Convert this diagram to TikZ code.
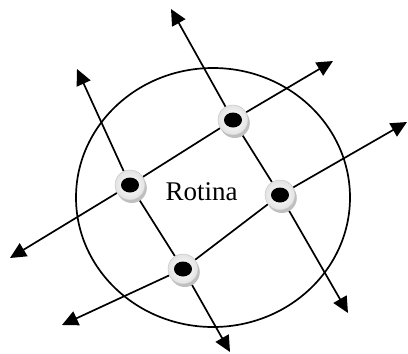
\documentclass[tikz,border=0pt]{standalone}
\usepackage{fontspec}
\setmainfont{Liberation Serif}
\usepackage{tikz}
\usetikzlibrary{arrows.meta, backgrounds, shadows}
\tikzset{
    retpuck/.style={circle, minimum size=30pt, inner sep=0pt, draw=gray!45, line width=0.5pt, inner color=white, outer color=gray!22, drop shadow={shadow xshift=1.8pt, shadow yshift=-3pt, fill=gray!50, opacity=1}, path picture={\fill[black] (path picture bounding box.center) ellipse (9pt and 7.5pt);}},
    retline/.style={line width=1.7pt, black},
    rettail/.style={retline, {Triangle[length=16pt, width=15pt]}-},
    rethead/.style={retline, -{Triangle[length=16pt, width=15pt]}},
    retlabel/.style={font=\fontsize{27}{30}\selectfont, inner sep=0pt}
}

\begin{document}
\begin{tikzpicture}[x=1pt, y=-1pt]
\useasboundingbox (0,0) rectangle (408,354);

\node[retpuck] (pa) at (130,185) {};
\node[retpuck] (pb) at (233,120) {};
\node[retpuck] (pc) at (280,195) {};
\node[retpuck] (pd) at (183,269) {};
\node[retlabel, anchor=base] (name) at (201.5,200) {Rotina};

\coordinate (l1s) at (10,258);
\coordinate (l1e) at (333,61);
\coordinate (l2s) at (62,325);
\coordinate (l2e) at (407,122);
\coordinate (l3s) at (77,69);
\coordinate (l3e) at (230,352);
\coordinate (l4s) at (171,9);
\coordinate (l4e) at (348,313);

\begin{scope}[on background layer]
\draw[retline] (213,197.5) ellipse (137 and 129.5);
\draw[rettail] (l1s) -- (pa);
\draw[retline] (pa) -- (pb);
\draw[rethead] (pb) -- (l1e);
\draw[rettail] (l2s) -- (pd);
\draw[retline] (pd) -- (pc);
\draw[rethead] (pc) -- (l2e);
\draw[rettail] (l3s) -- (pa);
\draw[retline] (pa) -- (pd);
\draw[rethead] (pd) -- (l3e);
\draw[rettail] (l4s) -- (pb);
\draw[retline] (pb) -- (pc);
\draw[rethead] (pc) -- (l4e);
\end{scope}

\end{tikzpicture}
\end{document}
